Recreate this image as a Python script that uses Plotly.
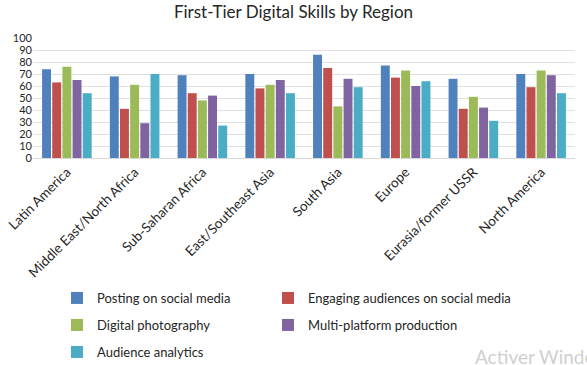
import plotly.graph_objects as go

regions = ["Latin America", "Middle East/North Africa", "Sub-Saharan Africa",
           "East/Southeast Asia", "South Asia", "Europe", "Eurasia/former USSR",
           "North America"]
posting = [74, 68, 69, 70, 86, 77, 66, 70]
engaging = [63, 41, 54, 58, 75, 67, 41, 59]
photography = [76, 61, 48, 61, 43, 73, 51, 73]
multiplatform = [65, 29, 52, 65, 66, 60, 42, 69]
analytics = [54, 70, 27, 54, 59, 64, 31, 54]

series = [
    ("Posting on social media", posting, "#4F81BD"),
    ("Engaging audiences on social media", engaging, "#C0504D"),
    ("Digital photography", photography, "#9BBB59"),
    ("Multi-platform production", multiplatform, "#8064A2"),
    ("Audience analytics", analytics, "#4BACC6"),
]
# legend text left edge (px) and row centre (px) for each entry
leg_pos = [(98, 298), (309, 298), (98, 325), (309, 325), (98, 352)]

FONT = "Lato, Open Sans, sans-serif"
L, T, B, R = 33, 38, 207, 12
W, H = 587, 365
PW, PH = W - L - R, H - T - B

fig = go.Figure()
layout_legends = {}
for i, (name, vals, color) in enumerate(series):
    key = "legend" if i == 0 else f"legend{i + 1}"
    fig.add_trace(go.Bar(name=name, x=regions, y=vals, marker_color=color,
                         marker_line_width=0, legend=key, showlegend=True))
    tx, ty = leg_pos[i]
    layout_legends[key] = dict(
        xref="container", yref="container",
        x=(tx - 41) / W, xanchor="left",
        y=1 - ty / H, yanchor="middle",
        font=dict(family=FONT, size=13, color="#262626"),
        itemwidth=30, bgcolor="rgba(0,0,0,0)")

fig.update_layout(
    width=W, height=H, showlegend=True,
    margin=dict(l=L, r=R, t=T, b=B, autoexpand=False),
    paper_bgcolor="white", plot_bgcolor="white",
    title=dict(text="First-Tier Digital Skills by Region", x=0.5, xanchor="center",
               yref="container", y=0.966, yanchor="middle",
               font=dict(family=FONT, size=17, color="#262626")),
    barmode="group", bargap=0.25, bargroupgap=0.12,
    font=dict(family=FONT, color="#262626"),
    xaxis=dict(tickangle=-45, tickfont=dict(family=FONT, size=13.5, color="#262626"),
               showline=True, linecolor="#D9D9D9", linewidth=1, ticks="",
               automargin=False),
    yaxis=dict(range=[0, 100], dtick=10, showgrid=True, gridcolor="#E0E0E0",
               gridwidth=1, zeroline=False, automargin=False,
               tickfont=dict(family=FONT, size=11, color="#262626")),
    **layout_legends,
)
fig.update_layout(annotations=[dict(text="Activer Windo", xref="paper", yref="paper",
                                    x=(473 - L) / PW, y=(T + PH - 370) / PH,
                                    xanchor="left", yanchor="bottom", showarrow=False,
                                    font=dict(family=FONT, size=19, color="#D0D0D0"))])
fig.write_html("out.html", config={"displayModeBar": False},
               post_script="document.body.style.margin='0px';document.body.style.overflow='hidden';")
